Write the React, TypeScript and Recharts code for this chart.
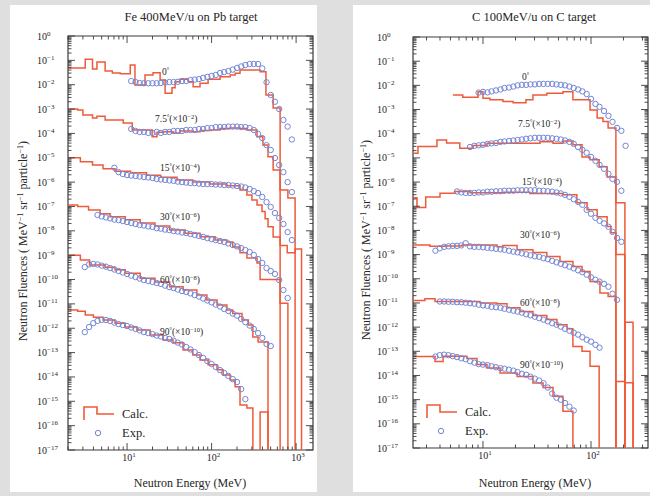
import React from 'react'
import { ComposedChart, Line, Scatter, XAxis, YAxis, ReferenceArea } from 'recharts'

const RED = '#ee5a3a'
const BLUE = '#7386d6'
const INK = '#262626'
const AXIS = '#3a3a3a'
const FONT = '"Liberation Serif", "DejaVu Serif", serif'
const OFF = -30 // empty calculated bin, drawn below the 1e-17 floor

const angleNames = ['0', '7.5', '15', '30', '60', '90']
const angleScales = ['', '−2', '−4', '−6', '−8', '−10']
const yExponents = [0, -1, -2, -3, -4, -5, -6, -7, -8, -9, -10, -11, -12, -13, -14, -15, -16, -17]
const xDecades = [1, 10, 100, 1000]
const minorSteps = [2, 3, 4, 5, 6, 7, 8, 9]

// ---- Fe 400MeV/u on Pb target ----
// energies (MeV) of the measured points; fluences below are log10 values
const feExpEnergy = [2.82, 3.16, 3.55, 3.98, 4.47, 5.01, 5.62, 6.31, 7.08, 7.94, 8.91, 10.0, 11.2, 12.6, 14.1, 15.8, 17.8, 20.0, 22.4, 25.1, 28.2, 31.6, 35.5, 39.8, 44.7, 50.1, 56.2, 63.1, 70.8, 79.4, 89.1, 100, 112, 126, 141, 158, 178, 200, 224, 251, 282, 316, 355, 398, 447, 501, 562, 631, 708, 794, 891]

const feExp0 = [null, null, null, null, null, null, null, null, null, null, null, null,
  -1.85, -1.89, -1.93, -1.94, -1.94, -1.94, -1.94, -1.93, -1.91, -1.89,
  -1.89, -1.88, -1.85, -1.85, -1.81, -1.79, -1.77, -1.72, -1.68, -1.64,
  -1.60, -1.52, -1.48, -1.44, -1.38, -1.31, -1.25, -1.19, -1.15, -1.15,
  -1.15, -1.33, -1.90, -2.42, -2.70, -3.00, -3.45, -3.72, -4.25]
const feExp75 = [null, null, null, null, null, null, null, null, null, null, null, null,
  -3.82, -3.90, -3.94, -3.94, -3.98, -3.98, -3.94, -3.98, -3.94, -3.94,
  -3.90, -3.90, -3.90, -3.86, -3.86, -3.86, -3.82, -3.82, -3.78, -3.78,
  -3.74, -3.74, -3.74, -3.72, -3.72, -3.72, -3.74, -3.74, -3.78, -3.86,
  -4.02, -4.19, -4.48, -4.68, -5.01, -5.30, -5.59, -6.00, -6.41]
const feExp15 = [null, null, null, null, null, null, null, null,
  -5.41, -5.59, -5.67, -5.71, -5.73, -5.75, -5.77, -5.79, -5.81, -5.83,
  -5.87, -5.89, -5.91, -5.93, -5.95, -5.98, -6.00, -6.02, -6.04, -6.04,
  -6.06, -6.08, -6.08, -6.08, -6.10, -6.10, -6.12, -6.12, -6.14, -6.16,
  -6.18, -6.22, -6.28, -6.37, -6.45, -6.61, -6.82, -7.02, -7.27, -7.47,
  -7.72, -8.05, -8.38]
const feExp30 = [null, null, null, null,
  -7.35, -7.41, -7.45, -7.49, -7.54, -7.56, -7.60, -7.64, -7.68, -7.72,
  -7.76, -7.78, -7.82, -7.84, -7.89, -7.91, -7.95, -7.97, -8.01, -8.03,
  -8.07, -8.09, -8.13, -8.17, -8.21, -8.25, -8.30, -8.34, -8.38, -8.42,
  -8.46, -8.52, -8.58, -8.64, -8.71, -8.79, -8.87, -8.99, -9.16, -9.32,
  -9.53, -9.65, -9.77, -10.02, -10.43, -10.76]
const feExp60 = [null,
  -9.49, -9.38, -9.36, -9.38, -9.43, -9.47, -9.53, -9.59, -9.65, -9.71,
  -9.77, -9.84, -9.90, -9.96, -10.02, -10.06, -10.10, -10.14, -10.18, -10.25,
  -10.31, -10.35, -10.41, -10.47, -10.51, -10.57, -10.64, -10.70, -10.78, -10.86,
  -10.94, -11.03, -11.11, -11.21, -11.29, -11.40, -11.48, -11.62, -11.75, -11.89,
  -12.03, -12.20, -12.40, -12.65, -12.73]
const feExp90 = [null,
  -12.16, -11.95, -11.79, -11.70, -11.66, -11.66, -11.70, -11.77, -11.83, -11.87,
  -11.91, -11.97, -12.03, -12.09, -12.16, -12.20, -12.24, -12.30, -12.34, -12.40,
  -12.44, -12.51, -12.59, -12.67, -12.77, -12.87, -12.98, -13.10, -13.22, -13.35,
  -13.47, -13.59, -13.72, -13.84, -13.96, -14.09, -14.21, -14.50, -14.91]

// calculated histograms: [bin low edge MeV, log10 fluence]
const feCalc0 = [[2.0, -1.31], [3.2, -0.95], [3.9, -1.36], [4.4, -1.07], [5.5, -1.44], [6.7, -1.52], [8.3, -1.55], [10.9, -1.19], [12.4, -2.01], [16.3, -1.60], [20.3, -1.51], [24.6, -1.81], [28.2, -2.35], [34, -2.12], [37, -1.88], [42.4, -1.78], [53, -1.88], [60.5, -2.08], [73, -1.94], [91, -1.78], [126, -1.67], [166, -1.60], [190, -1.53], [217, -1.40], [375, -1.47], [440, -2.42], [535, -2.96], [647, OFF]]
const feCalc75 = [[2.0, -3.0], [2.6, -3.04], [3.0, -3.24], [3.9, -3.37], [4.4, -3.3], [5.5, -3.45], [9.0, -3.57], [11.5, -3.86], [19.8, -4.14], [22.6, -3.95], [26.7, -3.93], [35, -3.98], [42, -3.9], [60, -3.93], [73, -3.88], [96, -3.86], [126, -3.8], [166, -3.78], [217, -3.8], [262, -3.86], [345, -4.14], [405, -4.48], [465, -4.96], [535, -5.5], [647, -6.32], [800, -6.65], [973, OFF]]
const feCalc15 = [[2.0, -5.0], [2.8, -5.16], [3.9, -5.3], [5.2, -5.45], [7.2, -5.55], [11, -5.62], [17, -5.72], [25, -5.8], [39, -5.91], [60, -6.0], [96, -6.08], [152, -6.15], [217, -6.32], [262, -6.53], [300, -6.73], [345, -6.94], [395, -7.21], [430, -7.5], [465, -7.83], [535, -8.25], [647, -8.6], [785, -8.9], [973, -8.75], [1160, OFF]]
const feCalc30 = [[2.0, -6.94], [2.6, -7.0], [3.5, -7.15], [4.8, -7.3], [6.3, -7.42], [9.5, -7.55], [14.3, -7.68], [21.4, -7.8], [32, -7.97], [48.5, -8.1], [73, -8.24], [110, -8.38], [152, -8.46], [178, -8.66], [217, -8.9], [262, -9.12], [345, -9.32], [375, -10.0], [647, -10.97], [800, OFF]]
const feCalc60 = [[2.0, -9.0], [2.8, -9.2], [3.6, -9.4], [5.5, -9.5], [7.2, -9.6], [9.5, -9.74], [14.3, -9.95], [21.4, -10.1], [32, -10.3], [46, -10.43], [67, -10.64], [88, -10.84], [116, -11.05], [152, -11.25], [178, -11.39], [229, -11.66], [272, -11.87], [308, -12.36], [355, -12.57], [465, OFF]]
const feCalc90 = [[2.0, -11.25], [2.6, -11.3], [3.2, -11.46], [4.0, -11.55], [5.2, -11.66], [7.2, -11.8], [9.5, -11.95], [13.1, -12.07], [18.7, -12.28], [26.7, -12.48], [35, -12.6], [46, -12.89], [60, -13.1], [73, -13.3], [91, -13.5], [116, -13.7], [137, -13.92], [166, -14.13], [190, -14.4], [217, -15.15], [262, -15.28], [308, OFF], [375, -15.44], [465, OFF]]

// ---- C 100MeV/u on C target ----
const cExpEnergy = [3.63, 3.98, 4.37, 4.79, 5.25, 5.75, 6.31, 6.92, 7.59, 8.32, 9.12, 10.0, 11.0, 12.0, 13.2, 14.5, 15.8, 17.4, 19.1, 20.9, 22.9, 25.1, 27.5, 30.2, 33.1, 36.3, 39.8, 43.7, 47.9, 52.5, 57.5, 63.1, 69.2, 75.9, 83.2, 91.2, 100, 110, 120, 132, 145, 158, 174, 191, 209]

const cExp0 = [null, null, null, null, null, null, null, null, null, null,
  -2.30, -2.27, -2.29, -2.25, -2.21, -2.17, -2.11, -2.09, -2.05, -2.00,
  -1.98, -1.98, -1.96, -1.96, -1.94, -1.94, -1.94, -1.94, -1.96, -1.98,
  -2.00, -2.05, -2.11, -2.17, -2.25, -2.36, -2.56, -2.77, -2.89, -3.06,
  -3.26, -3.51, -3.76, -3.88, -4.50]
const cExp75 = [null, null, null, null, null, null, null, null,
  -4.55, -4.50, -4.48, -4.46, -4.42, -4.40, -4.38, -4.34, -4.32, -4.30,
  -4.28, -4.26, -4.24, -4.21, -4.19, -4.17, -4.17, -4.17, -4.17, -4.19,
  -4.21, -4.24, -4.28, -4.34, -4.42, -4.55, -4.67, -4.79, -4.96, -5.12,
  -5.29, -5.45, -5.66, -5.87, -5.99, -6.36]
const cExp15 = [null, null, null, null, null,
  -6.39, -6.43, -6.45, -6.45, -6.45, -6.43, -6.43, -6.40, -6.40, -6.38,
  -6.38, -6.36, -6.36, -6.36, -6.34, -6.34, -6.34, -6.34, -6.34, -6.36,
  -6.36, -6.38, -6.40, -6.43, -6.47, -6.53, -6.61, -6.71, -6.82, -6.94,
  -7.15, -7.31, -7.48, -7.60, -7.71, -7.85, -8.06, -8.31, -8.47]
const cExp30 = [
  -8.84, -8.74, -8.68, -8.66, -8.64, -8.64, -8.62, -8.53, -8.66, -8.68,
  -8.68, -8.70, -8.72, -8.74, -8.76, -8.78, -8.80, -8.84, -8.88, -8.91,
  -8.95, -8.99, -9.03, -9.07, -9.09, -9.15, -9.19, -9.26, -9.32, -9.38,
  -9.44, -9.50, -9.57, -9.65, -9.73, -9.83, -9.94, -10.04, -10.12, -10.21,
  -10.33, -10.62, -10.87]
const cExp60 = [null,
  -10.94, -10.94, -10.95, -10.95, -10.97, -10.97, -10.99, -11.01, -11.03, -11.07,
  -11.10, -11.12, -11.16, -11.18, -11.20, -11.24, -11.28, -11.32, -11.36, -11.40,
  -11.47, -11.51, -11.57, -11.63, -11.69, -11.76, -11.84, -11.90, -11.98, -12.07,
  -12.15, -12.23, -12.31, -12.42, -12.52, -12.60, -12.73, -12.85]
const cExp90 = [
  -13.22, -13.16, -13.14, -13.16, -13.20, -13.24, -13.29, -13.33, -13.41, -13.47,
  -13.53, -13.55, -13.57, -13.62, -13.66, -13.70, -13.72, -13.76, -13.80, -13.86,
  -13.93, -13.97, -14.05, -14.13, -14.21, -14.32, -14.50, -14.75, -14.92, -15.00,
  -15.14, -15.29, -15.45]

const cCalc0 = [[5.27, -2.40], [6.5, -2.49], [9.0, -2.26], [10, -2.53], [11.6, -2.60], [15.3, -2.67], [19.0, -2.72], [25, -2.60], [29, -2.40], [39, -2.33], [55, -2.26], [68, -2.60], [98, -3.02], [114, -3.35], [129, -3.5], [144, -3.76], [170, OFF]]
const cCalc75 = [[2.25, -4.81], [2.5, -4.53], [3.75, -4.26], [4.6, -4.38], [6.1, -4.6], [8.1, -4.49], [10.9, -4.39], [22, -4.39], [33.7, -4.33], [44.5, -4.39], [55, -4.3], [68, -4.46], [82.6, -4.96], [98, -5.08], [119, -5.37], [141, -5.79], [170, -6.86], [206, OFF]]
const cCalc15 = [[2.25, -6.65], [2.45, -7.05], [2.95, -6.62], [4.0, -6.46], [5.5, -6.39], [7.6, -6.44], [15.9, -6.42], [27.2, -6.47], [55, -6.52], [74, -6.86], [92, -7.15], [114, -7.43], [141, -7.84], [153, -8.1], [170, -9.0], [206, OFF]]
const cCalc30 = [[2.25, -8.6], [3.23, -8.66], [4.45, -8.64], [6.4, -8.6], [13.5, -8.68], [15.3, -8.62], [20.7, -8.8], [29, -8.91], [39, -9.08], [51.6, -9.29], [68, -9.49], [82.6, -9.7], [98, -10.11], [121, -10.59], [144, -10.73], [170, OFF], [206, -11.8], [245, OFF]]
const cCalc60 = [[2.25, -10.9], [2.9, -10.83], [3.6, -10.94], [9.4, -11.0], [13.5, -11.03], [16.7, -11.2], [22, -11.35], [29, -11.52], [39, -11.69], [48.4, -11.9], [60, -12.07], [68, -12.8], [82.6, -13.0], [98, -13.62], [119, OFF]]
const cCalc90 = [[2.25, -13.22], [3.6, -13.42], [4.27, -13.21], [7.1, -13.3], [8.8, -13.55], [10.9, -13.69], [14.4, -13.9], [20.7, -14.04], [29, -14.31], [36, -14.5], [44.5, -14.86], [55, -15.48], [68, OFF], [170, -14.25], [206, -14.3], [245, OFF]]

const toSteps = (bins: number[][]) => bins.map(([e, lg]) => ({ e, f: Math.pow(10, lg) }))
const toPoints = (energy: number[], logs: (number | null)[]) =>
  logs.flatMap((lg, i) => (lg == null ? [] : [{ e: energy[i], f: Math.pow(10, lg) }]))

const isMajor = (v: number) => Math.abs(Math.log10(v) - Math.round(Math.log10(v))) < 1e-6
const yTicks = yExponents.flatMap(e => [Math.pow(10, e), ...(e < 0 ? minorSteps.map(m => m * Math.pow(10, e)) : [])])
const xTicksFor = ([lo, hi]: number[]) =>
  xDecades.flatMap(d => [d, ...minorSteps.map(m => m * d)]).filter(v => v >= lo * 0.999 && v <= hi)

interface PanelCfg {
  offset: number
  width: number
  top: number
  bottom: number
  yAxisWidth: number
  rightMargin: number
  labelX: number
  xDomain: number[]
  energy: number[]
  exp: (number | null)[][]
  calc: number[][][]
}

const panels: PanelCfg[] = [
  { offset: 0, width: 330, top: 36, bottom: 450, yAxisWidth: 68, rightMargin: 17, labelX: 37, xDomain: [2, 1585],
    energy: feExpEnergy, exp: [feExp0, feExp75, feExp15, feExp30, feExp60, feExp90],
    calc: [feCalc0, feCalc75, feCalc15, feCalc30, feCalc60, feCalc90] },
  { offset: 330, width: 330, top: 37, bottom: 448, yAxisWidth: 83, rightMargin: 12, labelX: 47, xDomain: [2.25, 337],
    energy: cExpEnergy, exp: [cExp0, cExp75, cExp15, cExp30, cExp60, cExp90],
    calc: [cCalc0, cCalc75, cCalc15, cCalc30, cCalc60, cCalc90] },
]

const Sup = ({ children, size = 7, up = 4 }: { children: React.ReactNode; size?: number; up?: number }) => (
  <>
    <tspan dy={-up} fontSize={size}>{children}</tspan>
    <tspan dy={up}>{'\u200b'}</tspan>
  </>
)

const ring = (s: any) => <circle cx={s.cx} cy={s.cy} r={2.7} fill="none" stroke={BLUE} strokeWidth={1} />

function FluenceChart({ p }: { p: PanelCfg }) {
  const plotLeft = p.yAxisWidth
  const plotRight = p.width - p.rightMargin

  const yTick = (t: any) => {
    const v = t.payload.value
    const y = t.y
    const major = isMajor(v)
    const ex = Math.round(Math.log10(v))
    const len = major ? 7 : 3.5
    return (
      <g>
        <line x1={plotLeft} x2={plotLeft + len} y1={y} y2={y} stroke={AXIS} strokeWidth={0.9} />
        <line x1={plotRight} x2={plotRight - len} y1={y} y2={y} stroke={AXIS} strokeWidth={0.9} />
        {major && (
          <text x={p.labelX} y={y + 3.5} fontSize={10} fill={INK} fontFamily={FONT}>
            10<tspan dy={-4} fontSize={7}>{ex === 0 ? '0' : '−' + -ex}</tspan>
          </text>
        )}
      </g>
    )
  }

  const xTick = (t: any) => {
    const v = t.payload.value
    const x = t.x
    const major = isMajor(v)
    const len = major ? 7 : 3.5
    return (
      <g>
        <line x1={x} x2={x} y1={p.bottom} y2={p.bottom - len} stroke={AXIS} strokeWidth={0.9} />
        <line x1={x} x2={x} y1={p.top} y2={p.top + len} stroke={AXIS} strokeWidth={0.9} />
        {major && (
          <text x={x + 2} y={p.bottom + 11} fontSize={10} fill={INK} fontFamily={FONT} textAnchor="middle">
            10<tspan dy={-4} fontSize={7}>{Math.round(Math.log10(v))}</tspan>
          </text>
        )}
      </g>
    )
  }

  return (
    <div style={{ position: 'absolute', left: p.offset, top: 0 }}>
      <ComposedChart width={p.width} height={496} margin={{ top: p.top, right: p.rightMargin, bottom: 0, left: 0 }}>
        <XAxis dataKey="e" type="number" scale="log" domain={p.xDomain} allowDataOverflow ticks={xTicksFor(p.xDomain)}
          interval={0} tick={xTick} tickLine={false} axisLine={false} height={496 - p.bottom} />
        <YAxis dataKey="f" type="number" scale="log" domain={[1e-17, 1]} allowDataOverflow ticks={yTicks}
          interval={0} tick={yTick} tickLine={false} axisLine={false} width={p.yAxisWidth} />
        {p.calc.map((bins, i) => (
          <Line key={'calc' + i} data={toSteps(bins)} dataKey="f" type="stepAfter" stroke={RED} strokeWidth={1.5}
            dot={false} isAnimationActive={false} />
        ))}
        {p.exp.map((vals, i) => (
          <Scatter key={'exp' + i} data={toPoints(p.energy, vals)} dataKey="f" shape={ring} isAnimationActive={false} />
        ))}
        <ReferenceArea x1={p.xDomain[0]} x2={p.xDomain[1]} y1={1e-17} y2={1} fill="none" stroke={AXIS}
          strokeWidth={1.2} ifOverflow="visible" />
      </ComposedChart>
    </div>
  )
}

const feLabelPos = [[162, 75], [155, 122], [160, 171], [160, 220], [160, 283], [160, 335]]
const cLabelPos = [[522, 80], [518, 127], [522, 185], [520, 238], [520, 306], [520, 368]]

const AngleLabel = ({ x, y, i }: { x: number; y: number; i: number }) => (
  <text x={x} y={y} fontSize={9.5} fill={INK} fontFamily={FONT}>
    {angleNames[i]}
    <tspan dy={-3.5} fontSize={6}>°</tspan>
    {angleScales[i] ? (
      <>
        <tspan dy={3.5}>(×10</tspan>
        <tspan dy={-3.5} fontSize={6.5}>{angleScales[i]}</tspan>
        <tspan dy={3.5}>)</tspan>
      </>
    ) : null}
  </text>
)

const YTitle = ({ x, y }: { x: number; y: number }) => (
  <text transform={`translate(${x},${y}) rotate(-90)`} textAnchor="middle" fontSize={12} fill={INK} fontFamily={FONT}>
    Neutron Fluences ( MeV<tspan dy={-4.5} fontSize={8}>−1</tspan>
    <tspan dy={4.5}> sr</tspan><tspan dy={-4.5} fontSize={8}>−1</tspan>
    <tspan dy={4.5}> particle</tspan><tspan dy={-4.5} fontSize={8}>−1</tspan>
    <tspan dy={4.5}>)</tspan>
  </text>
)

const Legend = ({ x, y }: { x: number; y: number }) => (
  <g>
    <path d={`M ${x} ${y + 13} L ${x} ${y} L ${x + 13} ${y} L ${x + 13} ${y + 7} L ${x + 30} ${y + 7}`}
      fill="none" stroke={RED} strokeWidth={1.6} />
    <text x={x + 38} y={y + 11} fontSize={12.5} fill={INK} fontFamily={FONT}>Calc.</text>
    <circle cx={x + 14} cy={y + 26} r={2.7} fill="none" stroke={BLUE} strokeWidth={1} />
    <text x={x + 38} y={y + 30} fontSize={12.5} fill={INK} fontFamily={FONT}>Exp.</text>
  </g>
)

export default function App() {
  return (
    <div style={{ position: 'fixed', left: 0, top: 0, width: 650, height: 496, overflow: 'hidden', background: '#dfdfdf' }}>
      <div style={{ position: 'absolute', left: 10, top: 5, width: 307, height: 487, background: '#fff' }} />
      <div style={{ position: 'absolute', left: 353, top: 5, width: 300, height: 487, background: '#fff' }} />
      {panels.map((p, i) => <FluenceChart key={i} p={p} />)}
      <svg width={650} height={496} style={{ position: 'absolute', left: 0, top: 0, pointerEvents: 'none' }}>
        <text x={191} y={21} textAnchor="middle" fontSize={12.5} fill={INK} fontFamily={FONT}>Fe 400MeV/u on Pb target</text>
        <text x={534} y={21} textAnchor="middle" fontSize={12.5} fill={INK} fontFamily={FONT}>C 100MeV/u on C target</text>
        <text x={190} y={487} textAnchor="middle" fontSize={12} fill={INK} fontFamily={FONT}>Neutron Energy (MeV)</text>
        <text x={535} y={487} textAnchor="middle" fontSize={12} fill={INK} fontFamily={FONT}>Neutron Energy (MeV)</text>
        <YTitle x={27} y={241} />
        <YTitle x={370} y={240} />
        {feLabelPos.map(([x, y], i) => <AngleLabel key={'fe' + i} x={x} y={y} i={i} />)}
        {cLabelPos.map(([x, y], i) => <AngleLabel key={'c' + i} x={x} y={y} i={i} />)}
        <Legend x={84} y={407} />
        <Legend x={427} y={405} />
      </svg>
    </div>
  )
}
